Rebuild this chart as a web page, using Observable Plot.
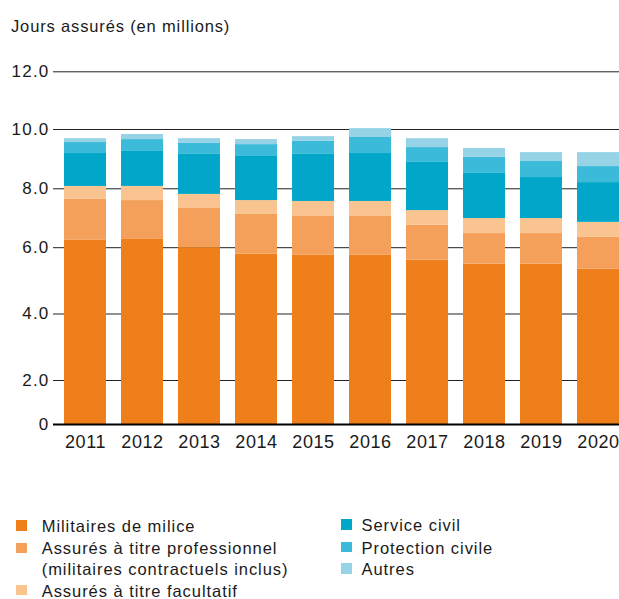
<!DOCTYPE html>
<html>
<head>
<meta charset="utf-8">
<script src="https://cdn.jsdelivr.net/npm/d3@7"></script>
<script src="https://cdn.jsdelivr.net/npm/@observablehq/plot@0.6"></script>
<style>
  html, body { margin: 0; padding: 0; background: #fff; }
  #root { position: relative; width: 619px; height: 599px; overflow: hidden; font-family: "Liberation Sans", Arial, Helvetica, sans-serif; color: #1a1a1a; }
  #title { position: absolute; left: 11px; top: 16px; font-size: 16.5px; line-height: 20.5px; letter-spacing: 0.85px; white-space: nowrap; }
  #chart { position: absolute; left: 0; top: 40px; }
  .item { position: absolute; font-size: 16.5px; line-height: 20.5px; letter-spacing: 0.95px; white-space: pre-line; }
  .sw { position: absolute; width: 10.5px; height: 10.5px; }
  #chart svg [aria-label="x-axis tick label"] text { letter-spacing: 0.6px; }
  #chart svg [aria-label="y-axis tick label"] text { letter-spacing: 1.2px; }
</style>
</head>
<body>
<div id="root">
  <div id="title">Jours assurés (en millions)</div>
  <div id="chart"></div>
</div>
<script>
// ---- data ----
const years = [2011, 2012, 2013, 2014, 2015, 2016, 2017, 2018, 2019, 2020];
const series = [
  "Militaires de milice",
  "Assurés à titre professionnel\n(militaires contractuels inclus)",
  "Assurés à titre facultatif",
  "Service civil",
  "Protection civile",
  "Autres"
];
const colors = ["#EE7F1A", "#F5A05A", "#F9C490", "#02A6C8", "#3BBBD9", "#96D3E6"];
const milice      = [6.25, 6.28, 6.00, 5.80, 5.77, 5.77, 5.62, 5.50, 5.50, 5.35];
const professionnel = [1.39, 1.32, 1.33, 1.33, 1.29, 1.29, 1.14, 0.98, 0.98, 1.00];
const facultatif  = [0.44, 0.48, 0.48, 0.47, 0.51, 0.51, 0.50, 0.51, 0.51, 0.51];
const serviceCivil = [1.11, 1.18, 1.35, 1.49, 1.59, 1.62, 1.63, 1.53, 1.39, 1.35];
const protection  = [0.37, 0.40, 0.37, 0.40, 0.44, 0.54, 0.50, 0.54, 0.54, 0.54];
const autres      = [0.13, 0.17, 0.16, 0.17, 0.16, 0.30, 0.30, 0.30, 0.30, 0.47];
const yTicks = [0, 2, 4, 6, 8, 10, 12];

const valuesBySeries = [milice, professionnel, facultatif, serviceCivil, protection, autres];
const table = [];
series.forEach((s, i) => years.forEach((yr, j) => table.push({year: yr, series: s, value: valuesBySeries[i][j]})));

// ---- chart ----
const chart = Plot.plot({
  width: 619,
  height: 420,
  marginLeft: 53,
  marginRight: 0,
  marginTop: 0,
  marginBottom: 36,
  style: {fontFamily: '"Liberation Sans", Arial, Helvetica, sans-serif', color: "#1a1a1a", background: "#fff", overflow: "visible"},
  x: {type: "band", domain: years, range: [63, 619], paddingInner: 0.265, paddingOuter: 0, label: null},
  // the reference axis has uneven tick spacing: piecewise-linear scale
  y: {type: "linear", domain: yTicks, range: [384, 340, 273.5, 207.2, 148.3, 89, 31.3], label: null},
  color: {domain: series, range: colors},
  marks: [
    Plot.gridY(yTicks.filter(d => d > 0), {stroke: "#222", strokeOpacity: 1, strokeWidth: 1}),
    Plot.barY(table, {x: "year", y: "value", fill: "series"}),
    Plot.ruleY([0], {stroke: "#000", strokeWidth: 2}),
    Plot.axisY(yTicks, {tickSize: 0, tickPadding: 4, fontSize: 17, tickFormat: d => d === 0 ? "0" : d.toFixed(1)}),
    Plot.axisX({tickSize: 0, tickPadding: 11, fontSize: 18, tickFormat: d => String(d)})
  ]
});
document.getElementById("chart").appendChild(chart);

// ---- legend ----
const root = document.getElementById("root");
const legendPos = [
  {left: 41.7, top: 515.7, swLeft: 16},
  {left: 41.7, top: 538.3, swLeft: 16},
  {left: 41.7, top: 580.5, swLeft: 16},
  {left: 361.5, top: 515, swLeft: 341},
  {left: 361.5, top: 537.5, swLeft: 341},
  {left: 361.5, top: 559, swLeft: 341}
];
series.forEach((s, i) => {
  const p = legendPos[i];
  const sw = document.createElement("div");
  sw.className = "sw";
  sw.style.left = p.swLeft + "px";
  sw.style.top = (p.top + 4.3) + "px";
  sw.style.background = colors[i];
  root.appendChild(sw);
  const t = document.createElement("div");
  t.className = "item";
  t.style.left = p.left + "px";
  t.style.top = p.top + "px";
  t.textContent = s;
  root.appendChild(t);
});
</script>
</body>
</html>
